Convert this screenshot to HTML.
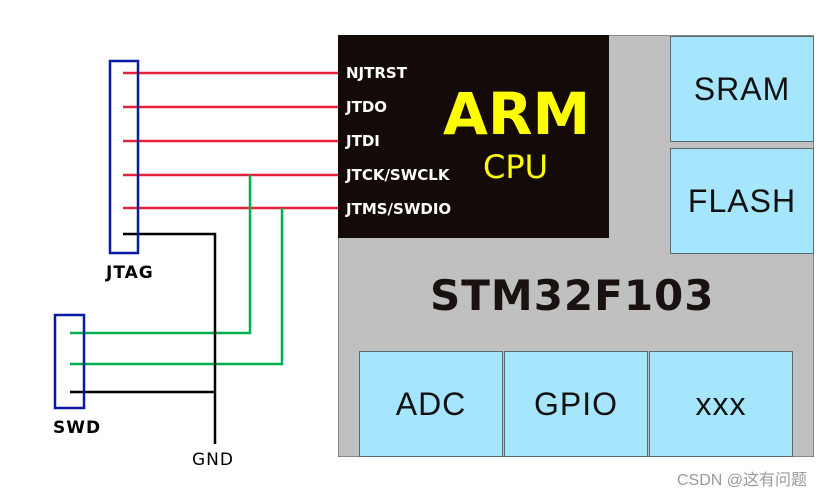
<!DOCTYPE html>
<html><head><style>
body{margin:0;width:828px;height:495px;background:#fff;position:relative;overflow:hidden;font-family:"Liberation Sans","DejaVu Sans",sans-serif}
.a{position:absolute}
.blue{background:#a6e6fc;border:1px solid #5a6a72;box-sizing:border-box;display:flex;align-items:center;justify-content:center;font-size:32px;color:#111;letter-spacing:1px}
.pin{position:absolute;left:346px;color:#fff;font-weight:bold;font-size:15px;font-family:"DejaVu Sans",sans-serif}
</style></head><body>
<div class="a" style="left:338px;top:35px;width:476px;height:422px;background:#c0c0c0;border:1px solid #888;box-sizing:border-box"></div>
<div class="a" style="left:338px;top:35px;width:271px;height:203px;background:#140b08"></div>
<div class="a" style="left:443px;top:80px;font-size:58px;font-weight:bold;color:#ffff00;font-family:'DejaVu Sans',sans-serif">ARM</div>
<div class="a" style="left:483px;top:148px;font-size:32px;color:#ffff00;font-family:'DejaVu Sans',sans-serif">CPU</div>
<div class="pin" style="top:64px">NJTRST</div>
<div class="pin" style="top:98px">JTDO</div>
<div class="pin" style="top:132px">JTDI</div>
<div class="pin" style="top:166px">JTCK/SWCLK</div>
<div class="pin" style="top:200px">JTMS/SWDIO</div>
<div class="a blue" style="left:670px;top:36px;width:144px;height:106px">SRAM</div>
<div class="a blue" style="left:670px;top:148px;width:144px;height:106px">FLASH</div>
<div class="a" style="left:430px;top:271px;font-size:42px;font-weight:bold;color:#1a1210;letter-spacing:1px;font-family:'DejaVu Sans',sans-serif">STM32F103</div>
<div class="a blue" style="left:359px;top:351px;width:144px;height:106px">ADC</div>
<div class="a blue" style="left:504px;top:351px;width:144px;height:106px">GPIO</div>
<div class="a blue" style="left:649px;top:351px;width:144px;height:106px">xxx</div>
<svg class="a" style="left:0;top:0" width="828" height="495">
<g stroke="#e8203a" stroke-width="2.5">
<line x1="123" y1="73" x2="338" y2="73"/><line x1="123" y1="107" x2="338" y2="107"/>
<line x1="123" y1="141" x2="338" y2="141"/><line x1="123" y1="175" x2="338" y2="175"/>
<line x1="123" y1="208" x2="338" y2="208"/></g>
<g stroke="#00b050" stroke-width="2.5" fill="none">
<polyline points="250,175 250,333 70,333"/><polyline points="282,208 282,364 70,364"/></g>
<g stroke="#000" stroke-width="2.5" fill="none">
<polyline points="123,234 215,234 215,444"/><line x1="70" y1="392" x2="215" y2="392"/></g>
<rect x="110" y="61" width="28" height="192" fill="none" stroke="#0a1aa0" stroke-width="2.5"/>
<rect x="55" y="315" width="29" height="93" fill="none" stroke="#0a1aa0" stroke-width="2.5"/>
<text x="106" y="278" font-size="17" font-weight="bold" font-family="DejaVu Sans" letter-spacing="1">JTAG</text>
<text x="53" y="433" font-size="17" font-weight="bold" font-family="DejaVu Sans" letter-spacing="1">SWD</text>
<text x="192" y="465" font-size="17" font-family="DejaVu Sans" letter-spacing="1">GND</text>
</svg>
<div class="a" style="left:677px;top:466px;font-size:16px;color:#999;font-family:'Liberation Sans','Noto Sans CJK SC',sans-serif">CSDN @这有问题</div>
</body></html>
